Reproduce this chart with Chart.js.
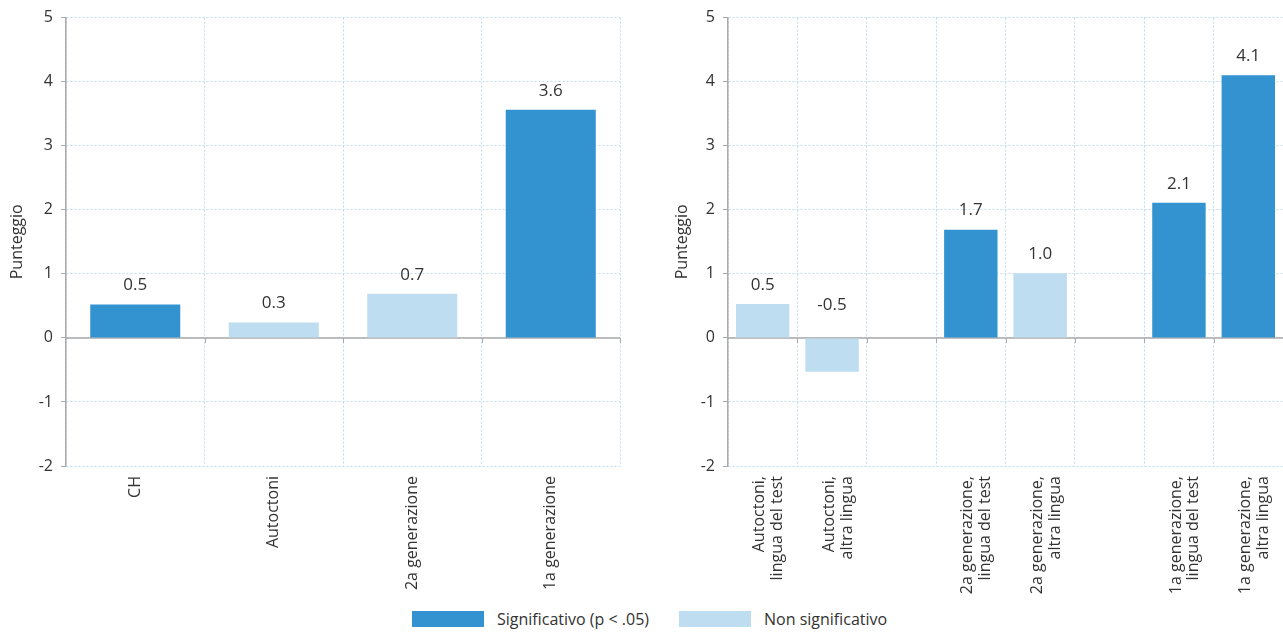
<!DOCTYPE html>
<html><head><meta charset="utf-8">
<script src="https://cdn.jsdelivr.net/npm/chart.js@4/dist/chart.umd.min.js"></script>
<style>
html,body{margin:0;padding:0;background:#fff;}
body{width:1283px;height:637px;position:relative;overflow:hidden;font-family:"Open Sans",sans-serif;}
#c1{position:absolute;left:0;top:0;}
#c2{position:absolute;left:640px;top:0;}
.leg{position:absolute;top:608px;font-size:16px;color:#333;display:flex;align-items:center;}
.sw{width:72px;height:16px;display:inline-block;margin-right:13px;}
</style></head>
<body>
<canvas id="c1" width="640" height="600"></canvas>
<canvas id="c2" width="643" height="600"></canvas>
<div class="leg" style="left:412px"><span class="sw" style="background:#3393D0"></span><span id="l1"></span></div>
<div class="leg" style="left:679px"><span class="sw" style="background:#BEDDF0"></span><span id="l2"></span></div>
<script>
// ---- data ----
const categoriesLeft = ['CH', 'Autoctoni', '2a generazione', '1a generazione'];
const valuesLeft = [0.52, 0.24, 0.69, 3.56];
const labelsLeft = ['0.5', '0.3', '0.7', '3.6'];
const significantLeft = [true, false, false, true];

const categoriesRight = [
  ['Autoctoni,', 'lingua del test'], ['Autoctoni,', 'altra lingua'], '',
  ['2a generazione,', 'lingua del test'], ['2a generazione,', 'altra lingua'], '',
  ['1a generazione,', 'lingua del test'], ['1a generazione,', 'altra lingua']
];
const valuesRight = [0.53, -0.53, null, 1.69, 1.01, null, 2.11, 4.1];
const labelsRight = ['0.5', '-0.5', '', '1.7', '1.0', '', '2.1', '4.1'];
const significantRight = [false, false, null, true, false, null, true, true];

const yTicks = [-2, -1, 0, 1, 2, 3, 4, 5];
const yTitle = 'Punteggio';
const legendLabels = ['Significativo (p < .05)', 'Non significativo'];

document.getElementById('l1').textContent = legendLabels[0];
document.getElementById('l2').textContent = legendLabels[1];

// ---- styles ----
const DARK = '#3393D0', LIGHT = '#BEDDF0', GRID = '#BFDDF1', AXIS = '#AAAAAA', TXT = '#333333';
const FONT = '"Open Sans", sans-serif';

const decor = {
  id: 'decor',
  beforeDatasetsDraw(chart) {
    const {ctx, chartArea, scales: {x, y}} = chart;
    const y0 = y.getPixelForValue(0);
    ctx.save();
    ctx.strokeStyle = AXIS; ctx.lineWidth = 1.5; ctx.setLineDash([]);
    ctx.beginPath(); ctx.moveTo(chartArea.left, y0); ctx.lineTo(chartArea.right, y0); ctx.stroke();
    ctx.lineWidth = 1;
    const n = chart.data.labels.length;
    for (let i = 1; i <= n; i++) {
      const px = Math.round(x.getPixelForValue(i - 0.5)) + 0.5;
      ctx.beginPath(); ctx.moveTo(px, y0); ctx.lineTo(px, y0 + 5); ctx.stroke();
    }
    ctx.restore();
  },
  afterDatasetsDraw(chart) {
    const {ctx, scales: {y}} = chart;
    const meta = chart.getDatasetMeta(0);
    const labs = chart.options.plugins.decor.labels;
    const y0 = y.getPixelForValue(0);
    ctx.save();
    ctx.font = '17px ' + FONT; ctx.fillStyle = TXT; ctx.textAlign = 'center'; ctx.textBaseline = 'middle';
    meta.data.forEach((el, i) => {
      const v = chart.data.datasets[0].data[i];
      if (v === null || v === undefined) return;
      const ty = v >= 0 ? el.y - 19 : y0 - 33;
      ctx.fillText(labs[i], el.x, ty);
    });
    ctx.restore();
  }
};

function makeChart(id, cats, vals, labs, sig, axisW, padRight, barPct, titlePad, lblOff) {
  return new Chart(document.getElementById(id), {
    type: 'bar',
    data: {
      labels: cats,
      datasets: [{
        data: vals,
        backgroundColor: sig.map(s => s ? DARK : LIGHT),
        borderWidth: 0,
        barPercentage: barPct,
        categoryPercentage: 1
      }]
    },
    options: {
      responsive: false,
      animation: false,
      events: [],
      layout: { padding: { top: 16, right: padRight, left: 0, bottom: 0 } },
      plugins: { legend: { display: false }, tooltip: { enabled: false }, decor: { labels: labs } },
      scales: {
        x: {
          grid: { color: GRID, drawTicks: false, offset: true, lineWidth: 1 },
          border: { display: false, dash: [2, 2] },
          ticks: { color: TXT, font: { family: FONT, size: 16, lineHeight: 1.12 }, minRotation: 90, maxRotation: 90, autoSkip: false, padding: 10, labelOffset: lblOff },
          afterFit(s) { s.height = 134; s.paddingLeft = 0; s.paddingRight = 0; }
        },
        y: {
          min: -2, max: 5,
          afterBuildTicks(s) { s.ticks = yTicks.map(v => ({ value: v })); },
          grid: { color: GRID, tickColor: AXIS, tickLength: 5, tickBorderDash: [], lineWidth: 1 },
          border: { display: true, color: AXIS, width: 1.5, dash: [2, 2] },
          ticks: { color: TXT, font: { family: FONT, size: 16 }, padding: 8 },
          title: { display: true, text: yTitle, color: TXT, font: { family: FONT, size: 16 }, padding: { top: titlePad, bottom: 0 } },
          afterFit(s) { s.width = axisW; }
        }
      }
    },
    plugins: [decor]
  });
}

makeChart('c1', categoriesLeft, valuesLeft, labelsLeft, significantLeft, 66, 20, 0.65, 8, 0);
makeChart('c2', categoriesRight, valuesRight, labelsRight, significantRight, 88, 0, 0.77, 33, -3);
</script>
</body></html>
